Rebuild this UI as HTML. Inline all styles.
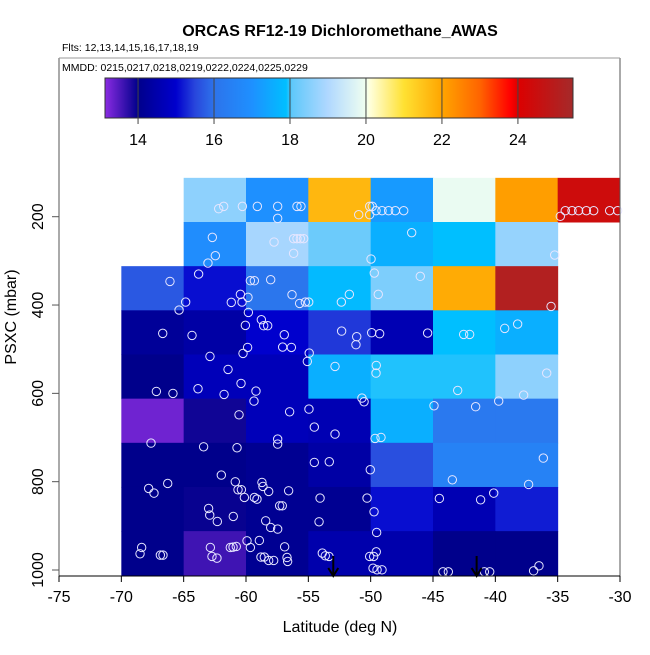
<!DOCTYPE html>
<html><head><meta charset="utf-8"><style>
body{margin:0;background:#fff;width:650px;height:650px;overflow:hidden}
svg text{font-family:"Liberation Sans",sans-serif}
</style></head><body>
<svg id="chart" width="650" height="650" xmlns="http://www.w3.org/2000/svg">
<text x="340" y="36" font-size="16" font-weight="bold" text-anchor="middle">ORCAS RF12-19 Dichloromethane_AWAS</text>
<text x="62" y="51" font-size="10.5">Flts: 12,13,14,15,16,17,18,19</text>
<text x="62" y="71" font-size="10.5">MMDD: 0215,0217,0218,0219,0222,0224,0225,0229</text>
<text x="340" y="632" font-size="16" text-anchor="middle">Latitude (deg N)</text>
<text x="0" y="0" font-size="16" text-anchor="middle" transform="translate(16,317) rotate(-90)">PSXC (mbar)</text>
<g id="cells"></g>
<g id="points"></g>
<g id="axes"></g>
<g id="cbar"></g>
</svg>
<script>
const latEdges = [-70,-65,-60,-55,-50,-45,-40,-35,-30];
const presEdges = [112,212,312,412,512,612,712,812,912,1012];
const cellValues = [
 [null,18.6,17.0,21.7,17.2,19.9,22.1,24.4],
 [null,16.9,18.9,18.2,17.6,17.9,18.7,null],
 [15.7,15.1,16.1,17.8,18.4,21.9,25.1,null],
 [14.2,14.4,15.0,15.4,14.6,17.9,17.6,null],
 [14.0,14.7,14.7,17.6,17.95,17.95,18.6,null],
 [13.3,13.9,14.7,14.6,17.6,16.2,16.2,null],
 [14.0,14.0,14.1,14.4,15.6,16.5,16.5,null],
 [14.0,13.95,14.1,14.1,15.1,14.6,15.2,null],
 [14.0,13.6,14.1,14.5,14.5,14.0,14.0,null]
];
const xTicks = [-75,-70,-65,-60,-55,-50,-45,-40,-35,-30];
const yTicks = [200,400,600,800,1000];
const cbTicks = [14,16,18,20,22,24];
const arrowLats = [-53.0,-41.5];
const ptLat = [-62.19,-61.79,-60.29,-59.09,-57.46,-57.46,-55.91,-55.59,-50.96,-50.08,-49.87,-50.08,-49.57,-49.09,-48.56,-48.02,-47.35,-34.79,-34.39,-33.85,-33.32,-32.70,-32.11,-30.83,-30.19,
 -62.70,-57.75,-56.18,-55.91,-55.64,-55.37,-62.46,-63.05,-56.18,-49.97,-46.71,-35.24,
 -66.10,-63.80,-64.84,-65.37,-61.18,-60.45,-60.32,-59.84,-59.65,-59.33,-58.02,-56.31,-55.70,-55.24,-54.97,-52.35,-51.71,-49.71,-49.39,-46.02,-35.53,
 -66.68,-64.33,-60.05,-59.81,-58.77,-58.58,-58.26,-56.93,-57.06,-56.36,-54.93,-59.87,-60.24,-52.33,-51.12,-51.18,-49.92,-49.28,-45.43,-42.54,-42.06,-39.25,-38.21,
 -62.89,-61.44,-63.85,-61.76,-60.40,-59.20,-59.36,-67.19,-65.86,-55.08,-52.86,-49.55,-49.57,-43.02,-35.88,-37.73,-50.70,-50.53,-44.92,-41.58,-39.73,
 -60.56,-56.50,-54.95,-57.46,-57.46,-54.52,-52.86,-67.62,-49.65,-49.17,
 -63.40,-60.72,-54.52,-53.32,-50.03,-43.45,-36.15,-37.33,-61.98,-60.86,-60.64,-60.37,-66.28,-67.81,-67.38,-58.72,-58.64,-58.18,-56.58,-60.13,-59.33,-59.12,
 -63.0,-62.91,-62.30,-61.02,-58.42,-58.02,-57.46,-57.30,-57.09,-54.06,-54.14,-50.29,-49.73,-49.52,-44.49,-41.18,-40.13,
 -68.37,-68.50,-66.87,-66.66,-62.86,-62.73,-62.33,-61.26,-61.04,-60.78,-59.92,-59.65,-58.93,-58.80,-58.53,-58.18,-57.78,-56.71,-56.66,-56.90,-53.88,-53.64,-53.34,-50.08,-49.76,-49.55,-49.81,-49.49,-49.09,-44.20,-43.77,-40.88,-40.45,-36.93,-36.50];
const ptPres = [181.9,176.6,176.6,176.6,176.6,203.8,176.6,176.6,195.5,176.6,176.6,195.5,186.4,186.4,186.4,186.4,186.4,199.2,186.4,186.4,186.4,186.4,186.4,186.4,186.4,
 246.8,257.4,249.8,249.8,249.8,249.8,288.3,305,283,295.9,236.2,286.8,
 346.5,329.9,393.3,411.4,394,375.9,393.3,382.7,345,345,342.7,376.7,396.3,393.3,393.3,393.3,375.9,327.6,375.9,335.1,403.1,
 464.2,468.8,446.1,416.7,433.3,446.9,446.9,467.3,495.2,496,508.8,496,509.6,459,471.8,489.9,462.7,465,463.5,466.5,466.5,452.9,443.1,
 516.3,545.8,589.6,602.4,577.5,594.9,617.5,595.6,600.1,527.7,539,536.7,554.1,593.4,554.1,603.9,610.7,619,628.1,630.3,617.5,
 648.5,641.7,635.6,703.6,714.9,676.4,692.3,712.6,702,699.8,
 721,723.2,756.4,754.9,773,795.7,746.6,806.3,785.1,800.2,818.3,818.3,804,815.3,825.9,801.7,810.8,822.1,820.6,835.7,835.7,839.5,
 860.6,875.7,890.1,878.7,888.6,903.7,907.4,854.6,854.6,837.2,890.8,837.2,868.2,915,838,841,825.9,
 949,963.3,966.3,966.3,949,969.3,973.1,949,948.2,946.7,933.9,949,933.1,970.8,970.8,978.4,978.4,971.6,980.6,947.5,961.8,967.8,969.3,969.3,969.3,958.8,995.8,999.6,999.6,1004.1,1004.1,1004.1,1004.1,1001.9,990.6];

const NS='http://www.w3.org/2000/svg';
const X0=59,X1=620,YT=58,YB=576;
function xs(lat){return X0+(lat+75)*(X1-X0)/45;}
function ys(p){return 216.7+(p-200)*(570-216.7)/800;}
const cmin=13.13,cmax=25.45,CB0=105,CB1=573;
function cbx(v){return CB0+(v-cmin)*(CB1-CB0)/(cmax-cmin);}
const stops=[[13.13,[138,43,226]],[14.0,[0,0,139]],[15.0,[0,0,205]],[15.5,[40,70,220]],[16.0,[45,115,235]],[17.0,[30,144,255]],[17.9,[0,191,255]],[18.05,[95,200,250]],[19.0,[176,216,255]],[20.0,[240,255,240]],[20.1,[255,255,220]],[21.0,[255,225,50]],[22.0,[255,165,0]],[23.0,[255,100,0]],[23.8,[255,0,0]],[24.0,[220,0,0]],[25.45,[165,42,42]]];
function col(v){
  for(let i=1;i<stops.length;i++){ if(v<=stops[i][0]){const a=stops[i-1],b=stops[i];const t=(v-a[0])/(b[0]-a[0]);
    const c=a[1].map((q,k)=>Math.round(q+(b[1][k]-q)*t));return 'rgb('+c.join(',')+')';}}
  return 'rgb(165,42,42)';
}
function mk(tag,attrs,parent){const e=document.createElementNS(NS,tag);for(const k in attrs)e.setAttribute(k,attrs[k]);parent.appendChild(e);return e;}

const cells=document.getElementById('cells');
cellValues.forEach((row,r)=>row.forEach((v,c)=>{
  if(v===null)return;
  const x=xs(latEdges[c]),w=xs(latEdges[c+1])-x,y=ys(presEdges[r]),h=ys(presEdges[r+1])-y;
  const e=mk('rect',{x:x,y:y,width:w+0.5,height:h+0.5,fill:col(v)},cells);
  
  
}));

const pts=document.getElementById('points');
ptLat.forEach((lat,i)=>{
  const e=mk('circle',{cx:xs(lat),cy:ys(ptPres[i]),r:4.2,fill:'none',stroke:'#e6e6ff','stroke-width':1},pts);
  
  
});

const ax=document.getElementById('axes');
mk('line',{x1:X0,y1:YT,x2:X0,y2:YB,stroke:'#555','stroke-width':1},ax);
mk('line',{x1:X1,y1:YT,x2:X1,y2:YB,stroke:'#555','stroke-width':1},ax);
mk('line',{x1:X0,y1:YT,x2:X1,y2:YT,stroke:'#999','stroke-width':1},ax);
mk('line',{x1:X0,y1:YB,x2:X1,y2:YB,stroke:'#000','stroke-width':1},ax);
xTicks.forEach(t=>{
  const x=xs(t);
  mk('line',{x1:x,y1:YB,x2:x,y2:YB+6,stroke:'#000'},ax);
  const tx=mk('text',{x:x,y:YB+26,'font-size':16,'text-anchor':'middle'},ax);
  tx.textContent=t;
  
  
});
yTicks.forEach(t=>{
  const y=ys(t);
  mk('line',{x1:X0-7,y1:y,x2:X0,y2:y,stroke:'#555'},ax);
  const tx=mk('text',{x:0,y:0,'font-size':16,'text-anchor':'middle',transform:'translate(43,'+y+') rotate(-90)'},ax);
  tx.textContent=t;
  
  
});
arrowLats.forEach(lat=>{
  const x=xs(lat);
  const g=mk('g',{},ax);
  
  
  mk('line',{x1:x,y1:556,x2:x,y2:575,stroke:'#000','stroke-width':2},g);
  mk('path',{d:'M'+(x-5)+' 568 L'+x+' 576 L'+(x+5)+' 568',fill:'none',stroke:'#000','stroke-width':2},g);
});

const cb=document.getElementById('cbar');
const grad=mk('linearGradient',{id:'cg',x1:0,x2:1,y1:0,y2:0},mk('defs',{},cb));
stops.forEach(s=>mk('stop',{offset:((s[0]-cmin)/(cmax-cmin)*100)+'%','stop-color':col(s[0])},grad));
mk('rect',{x:CB0,y:78,width:CB1-CB0,height:40,fill:'url(#cg)',stroke:'#333','stroke-width':1},cb);
cbTicks.forEach(t=>{
  const x=cbx(t);
  mk('line',{x1:x,y1:78,x2:x,y2:124,stroke:'#444','stroke-width':1},cb);
  const tx=mk('text',{x:x,y:145,'font-size':16,'text-anchor':'middle'},cb);
  tx.textContent=t;
  
  
});
</script>
</body></html>
